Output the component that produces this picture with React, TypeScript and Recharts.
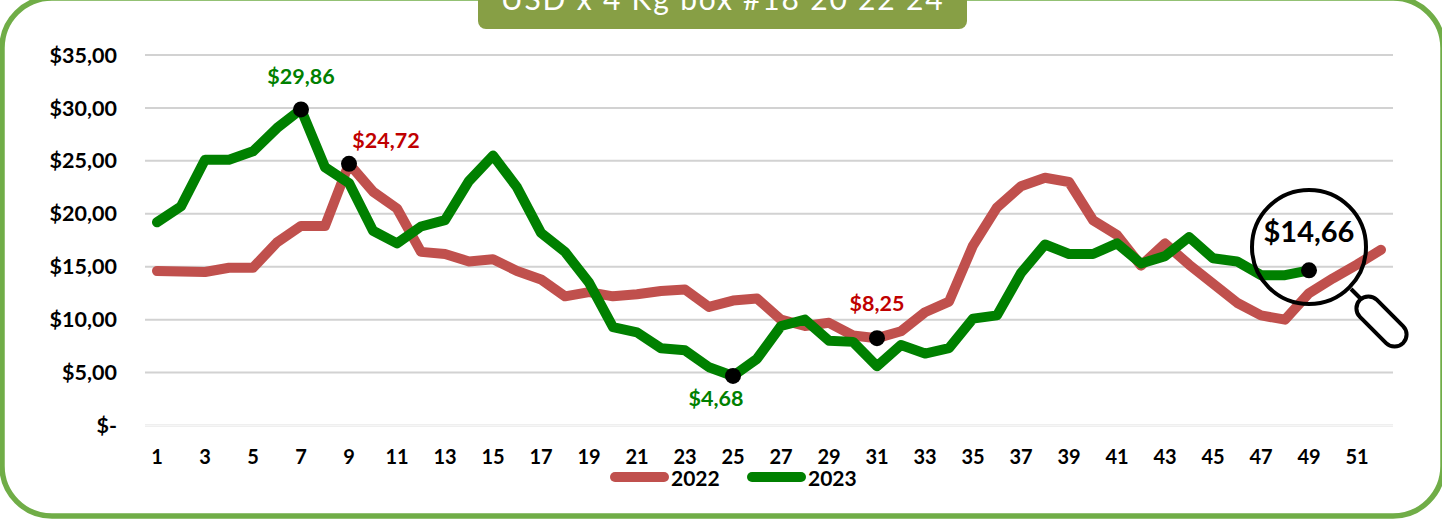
import React from "react";
import { LineChart, Line, XAxis, YAxis, CartesianGrid, Legend, ReferenceLine } from "recharts";

const weeks = Array.from({ length: 52 }, (_, i) => i + 1);
const series2022 = [14.6,14.55,14.5,14.9,14.9,17.3,18.85,18.85,24.72,22.1,20.5,16.4,16.2,15.5,15.7,14.6,13.8,12.2,12.6,12.2,12.4,12.7,12.85,11.2,11.8,12.0,10.0,9.4,9.7,8.5,8.25,8.9,10.7,11.7,17.0,20.6,22.6,23.4,23.0,19.4,18.0,15.1,17.2,15.2,13.4,11.6,10.4,10.0,12.5,13.9,15.2,16.6];
const series2023: (number | null)[] = [19.2,20.7,25.1,25.1,25.9,28.1,29.86,24.4,22.9,18.4,17.2,18.8,19.4,23.1,25.5,22.5,18.2,16.4,13.5,9.3,8.8,7.3,7.1,5.5,4.68,6.3,9.4,10.0,8.0,7.9,5.6,7.6,6.8,7.3,10.1,10.4,14.4,17.1,16.2,16.2,17.2,15.3,16.0,17.8,15.8,15.5,14.2,14.2,14.66,null,null,null];
const yTicks = [0, 5, 10, 15, 20, 25, 30, 35];
const callouts2022 = [
  { week: 9, text: "$24,72", color: "#C00000", size: 21.5, dx: 37, dy: -21 },
  { week: 31, text: "$8,25", color: "#C00000", size: 21.5, dx: 0, dy: -33 },
];
const callouts2023 = [
  { week: 7, text: "$29,86", color: "#008000", size: 21.5, dx: 0, dy: -31 },
  { week: 25, text: "$4,68", color: "#008000", size: 21.5, dx: -17, dy: 25 },
  { week: 49, text: "$14,66", color: "#000000", size: 29, dx: 0, dy: -36 },
];
const data = weeks.map((w, i) => ({ week: w, y2022: series2022[i], y2023: series2023[i] }));
const FONT = "Lato, Carlito, sans-serif";

function makeDot(callouts: typeof callouts2022) {
  return (p: any) => {
    const c = callouts.find((k) => k.week === p.payload.week);
    if (!c || p.value == null) return <g key={p.index} />;
    return (
      <g key={p.index}>
        <circle cx={p.cx} cy={p.cy} r={8} fill="#000" />
        <text x={p.cx + c.dx} y={p.cy + c.dy} textAnchor="middle" dominantBaseline="middle" fill={c.color}
          fontSize={c.size} fontWeight={700} fontFamily={FONT}>{c.text}</text>
      </g>
    );
  };
}

const legendContent = (props: any) => (
  <div style={{ position: "relative", height: 20, fontFamily: FONT, fontWeight: 700, fontSize: 21, color: "#000" }}>
    {props.payload.map((e: any, i: number) => (
      <div key={e.value} style={{ position: "absolute", left: i * 137, top: 0, display: "flex", alignItems: "center", height: 20 }}>
        <span style={{ display: "inline-block", width: 59, height: 10, borderRadius: 5, background: e.color, marginRight: 2 }} />
        <span>{e.value}</span>
      </div>
    ))}
  </div>
);

export default function App() {
  return (
    <div style={{ position: "absolute", left: 0, top: 0, width: 1442, height: 519, overflow: "hidden", background: "#fff", fontFamily: FONT }}>
      <svg width={1442} height={519} style={{ position: "absolute", left: 0, top: 0 }}>
        <rect x={2} y={-2} width={1441} height={518} rx={50} fill="#fff" stroke="#70AD47" strokeWidth={5.5} />
      </svg>
      <div style={{ position: "absolute", left: 478, top: -16, width: 489, height: 45, background: "#879F45", borderRadius: "0 0 8px 8px",
        color: "#fff", fontSize: 30, lineHeight: "28px", textAlign: "center", letterSpacing: 1.8, whiteSpace: "nowrap" }}>
        USD x 4 Kg box #18 20 22 24
      </div>
      <div style={{ position: "absolute", left: 0, top: 0 }}>
        <LineChart width={1442} height={519} data={data} margin={{ top: 55, right: 49, bottom: 33.5, left: 0 }}>
          <CartesianGrid horizontal vertical={false} stroke="#D2D2D2" strokeWidth={2} />
          <XAxis dataKey="week" interval={1} height={40} padding={{ left: 12, right: 12 }} tickLine={false} axisLine={false} tickMargin={18}
            tick={{ fill: "#000", fontSize: 20, fontWeight: 700, fontFamily: FONT }} />
          <YAxis width={145} domain={[0, 35]} ticks={yTicks} tickLine={false} axisLine={false} tickSize={0} tickMargin={28}
            tickFormatter={(v: number) => (v === 0 ? "$-" : `$${v},00`)}
            tick={{ fill: "#000", fontSize: 21.5, fontWeight: 700, fontFamily: FONT }} />
          <ReferenceLine y={0} stroke="#F6F6F6" strokeWidth={2} />
          <Line dataKey="y2022" name="2022" stroke="#C0504D" strokeWidth={10} strokeLinecap="round" strokeLinejoin="round"
            dot={makeDot(callouts2022)} activeDot={false} isAnimationActive={false} />
          <Line dataKey="y2023" name="2023" stroke="#008000" strokeWidth={10} strokeLinecap="round" strokeLinejoin="round"
            dot={makeDot(callouts2023)} activeDot={false} isAnimationActive={false} />
          <Legend content={legendContent} wrapperStyle={{ position: "absolute", left: 610, top: 467, width: 300, height: 20 }} />
        </LineChart>
      </div>
      <svg width={1442} height={519} style={{ position: "absolute", left: 0, top: 0, pointerEvents: "none" }}>
        <circle cx={1309} cy={247} r={57} fill="none" stroke="#000" strokeWidth={4} />
        <line x1={1351} y1={289} x2={1362} y2={300} stroke="#000" strokeWidth={4} />
        <rect x={1351} y={309.5} width={61} height={24} rx={12} fill="#fff" stroke="#000" strokeWidth={4} transform="rotate(45 1381.5 321.5)" />
      </svg>
    </div>
  );
}
